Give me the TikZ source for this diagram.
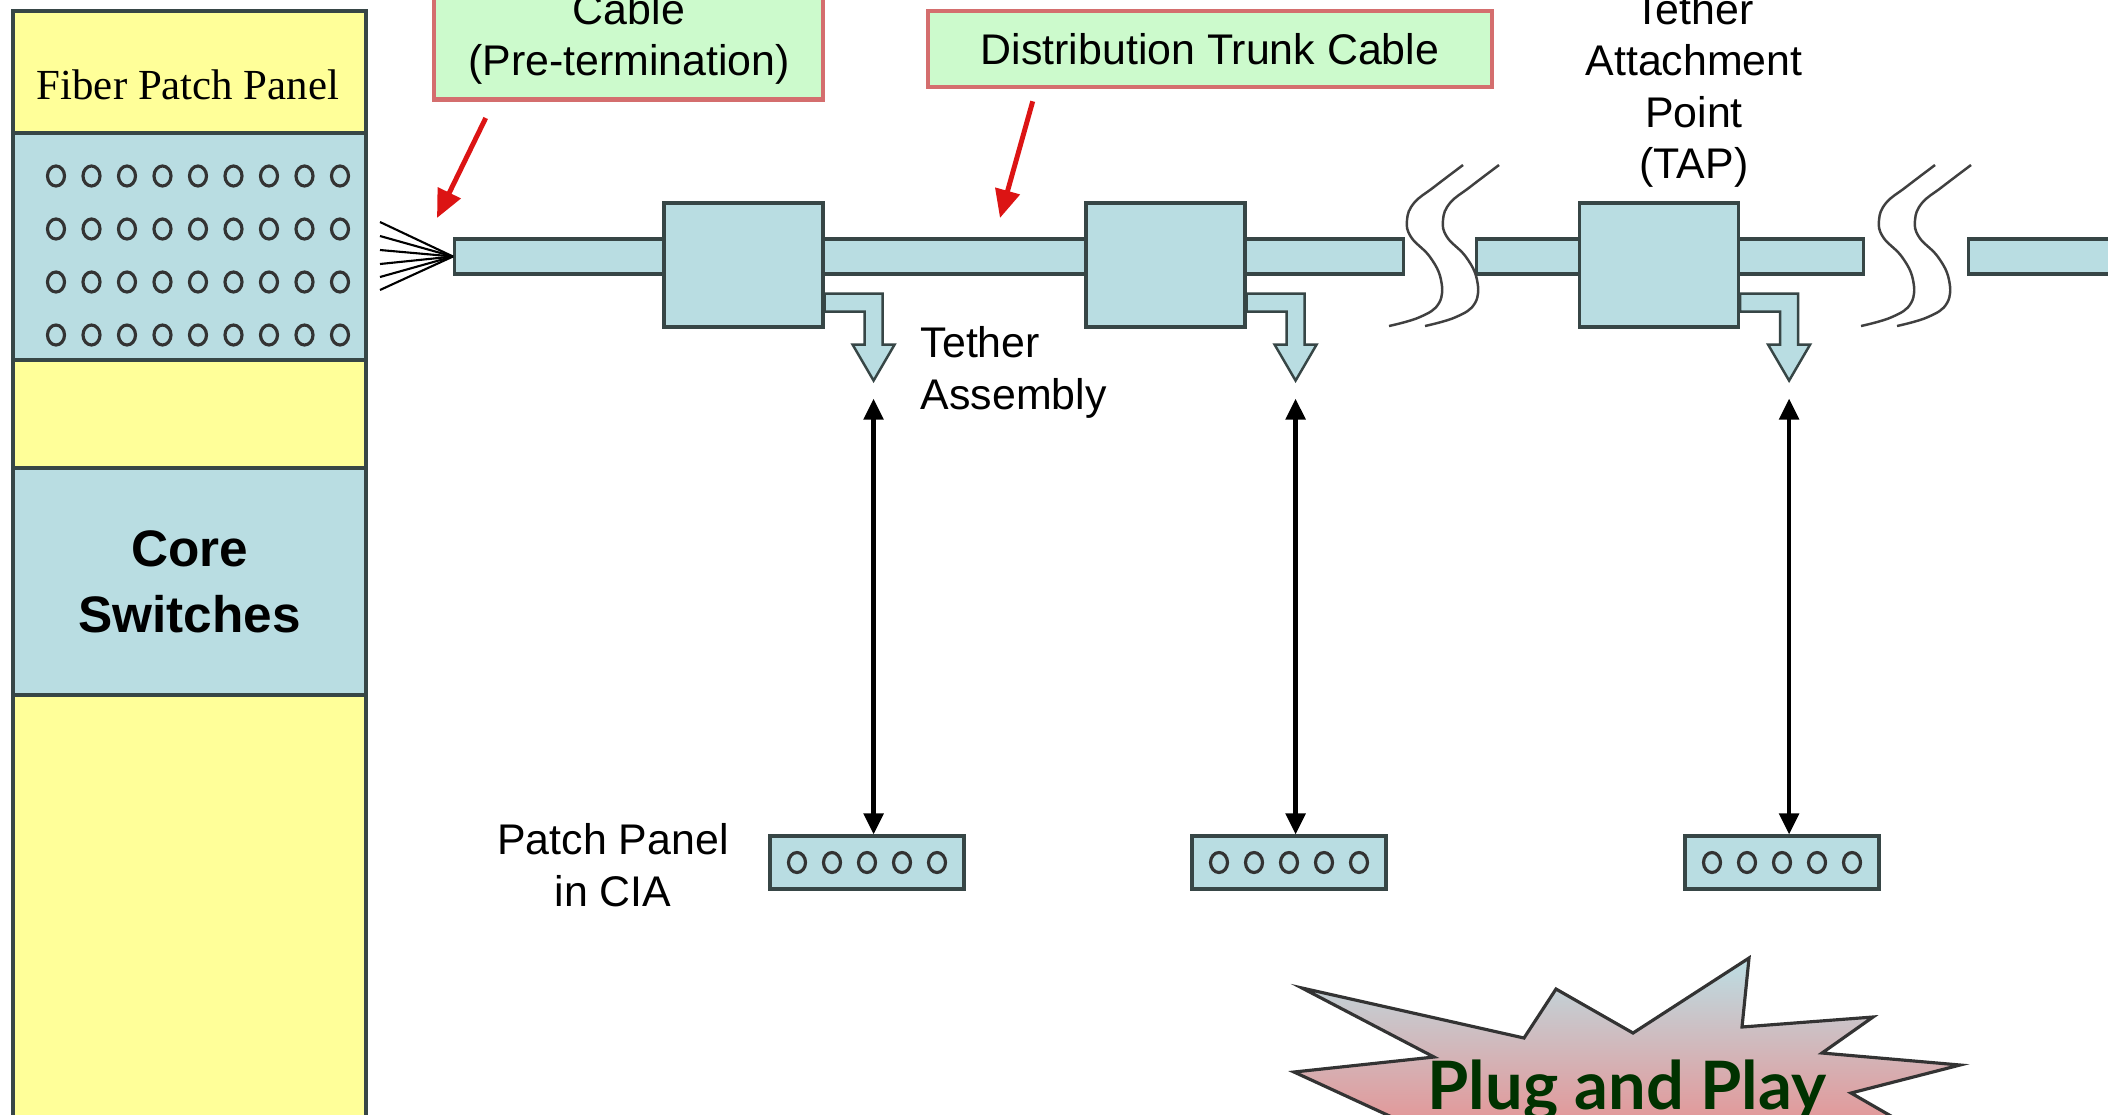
\documentclass[tikz,border=0pt]{standalone}
\usepackage{fontspec}
\setmainfont{Liberation Sans}
\newfontfamily\panelfont{Liberation Serif}
\newfontfamily\plugfont{Lato}
\usetikzlibrary{arrows.meta,calc,positioning}
\definecolor{tapblue}{RGB}{185,221,226}
\definecolor{rackyellow}{RGB}{255,255,153}
\definecolor{edgegray}{RGB}{55,70,70}
\definecolor{notegreen}{RGB}{204,250,204}
\definecolor{noteedge}{RGB}{212,110,110}
\definecolor{callred}{RGB}{220,20,20}
\definecolor{plugtext}{RGB}{0,50,0}
\definecolor{burstblue}{RGB}{188,222,228}
\definecolor{burstpink}{RGB}{236,135,135}

\begin{document}
\begin{tikzpicture}[
    lbl/.style={font=\fontsize{12.2}{14.6}\selectfont, align=center, inner sep=0pt},
    rackpart/.style={draw=edgegray, fill=tapblue, line width=0.9pt, minimum width=3.53cm, minimum height=2.27cm, inner sep=0pt, align=center},
    tapbox/.style={draw=edgegray, fill=tapblue, line width=0.9pt, minimum width=1.59cm, minimum height=1.24cm, inner sep=0pt},
    cable/.style={draw=edgegray, fill=tapblue, line width=0.9pt, minimum height=0.35cm, inner sep=0pt, anchor=west},
    ciapanel/.style={draw=edgegray, fill=tapblue, line width=0.9pt, minimum width=1.94cm, minimum height=0.53cm, inner sep=0pt},
    note/.style={draw=noteedge, fill=notegreen, line width=1.3pt, inner sep=0pt},
    port/.style={draw=black!80, line width=0.9pt},
    tether/.style={draw=edgegray, fill=tapblue, line width=0.7pt},
    link/.style={{Triangle[length=6pt,width=5.5pt]}-{Triangle[length=6pt,width=5.5pt]}, line width=1.3pt},
    callout/.style={-{Triangle[length=8pt,width=7pt]}, draw=callred, line width=1.4pt},
    brk/.style={draw=black!75, line width=0.7pt}
]
\useasboundingbox (0,0) rectangle (21.08,-11.14);
\clip (0,0) rectangle (21.08,-11.14);
\fill[white] (0,0) rectangle (21.08,-11.14);

% rack column
\fill[rackyellow] (0.13,-0.11) rectangle (3.66,-11.6);
\node[rackpart] (fpp) at (1.895,-2.465) {};
\node[rackpart, font=\fontsize{14.6}{18.8}\selectfont\bfseries] (core) at (1.895,-5.815) {Core\\Switches};
\draw[draw=edgegray, line width=0.9pt] (0.13,-11.6) |- (3.66,-0.11) -- (3.66,-11.6);
\node[font=\panelfont\fontsize{12.2}{14}\selectfont] (fpplabel) at (1.88,-0.85) {Fiber Patch Panel};
\foreach \c in {0,...,8}{
  \foreach \r in {0,...,3}{
    \draw[port] (0.56+0.355*\c,-1.76-0.53*\r) ellipse (0.085 and 0.10);
  }
}

% trunk cable
\node[cable, minimum width=9.49cm] (trunkA) at (4.53,-2.565) {};
\node[cable, minimum width=3.87cm] (trunkB) at (14.75,-2.565) {};
\node[cable, minimum width=1.60cm] (trunkC) at (19.67,-2.565) {};
\coordinate (fanend) at (trunkA.west);
\foreach \y in {2.22,2.36,2.50,2.64,2.77,2.90}
  \draw[line width=0.6pt] (3.80,-\y) -- (fanend);

\foreach \bx in {13.89,14.25,18.61,18.97}
  \draw[brk, shift={(\bx,-3.26)}] plot[smooth, tension=0.7] coordinates {(0,0) (0.31,0.09) (0.50,0.23) (0.52,0.46) (0.41,0.69) (0.22,0.89) (0.18,1.06) (0.25,1.23) (0.45,1.39) (0.74,1.61)};

% TAPs, tethers and CIA panels
\node[tapbox] (tap1) at (7.435,-2.65) {};
\node[tapbox] (tap2) at (11.655,-2.65) {};
\node[tapbox] (tap3) at (16.59,-2.65) {};
\node[ciapanel] (pp1) at (8.67,-8.625) {};
\node[ciapanel] (pp2) at (12.89,-8.625) {};
\node[ciapanel] (pp3) at (17.82,-8.625) {};
\foreach \i in {1,2,3}{
  \draw[tether] ([yshift=0.35cm]tap\i.south east) -- ++(0.58,0) -- ++(0,-0.51) -- ++(0.12,0)
    -- ++(-0.21,-0.36) coordinate (tip\i) -- ++(-0.21,0.36) -- ++(0.12,0) -- ++(0,0.33) -- ++(-0.40,0) -- cycle;
  \draw[link] ([yshift=-0.18cm]tip\i) -- (tip\i |- pp\i.north);
  \foreach \k in {-2,...,2}
    \draw[port] ($(pp\i)+(0.35*\k,0)$) ellipse (0.085 and 0.10);
}

% notes
\node[note, minimum width=3.89cm, minimum height=2.2cm, anchor=south] (precable) at (6.285,-1.02) {};
\node[lbl] (precabletxt) at (6.29,-0.39) {Cable\\(Pre-termination)};
\node[note, lbl, minimum width=5.64cm, minimum height=0.76cm] (trunknote) at (12.10,-0.49) {Distribution Trunk Cable};
\coordinate (fantip) at (4.37,-2.18);
\coordinate (trunkspot) at (10.00,-2.18);
\draw[callout] ([shift={(0.54,-0.16)}]precable.south west) -- (fantip);
\draw[callout] ([shift={(1.07,-0.12)}]trunknote.south west) -- (trunkspot);

\node[lbl, align=left, anchor=west] (tetherlbl) at (9.20,-3.725) {Tether\\Assembly};
\node[lbl] (cialbl) at (6.13,-8.65) {Patch Panel\\in CIA};
\node[lbl] (taplbl) at (16.94,-0.905) {Tether\\Attachment\\Point\\(TAP)};

% plug and play burst
\shade[top color=burstblue, bottom color=burstpink, draw=black!80, line width=0.9pt]
  (12.94,-10.72) -- (14.34,-10.57) -- (13.02,-9.88) -- (15.24,-10.38) -- (15.56,-9.89) -- (16.33,-10.33)
  -- (17.49,-9.58) -- (17.42,-10.27) -- (18.73,-10.17) -- (18.22,-10.53) -- (19.60,-10.65) -- (18.51,-10.93)
  -- (19.50,-11.50) -- (18.00,-11.60) -- (16.00,-11.60) -- (14.20,-11.30) -- cycle;
\node[font=\plugfont\bfseries\fontsize{19}{22}\selectfont, text=plugtext, anchor=base] (plug) at (16.27,-11.09) {Plug and Play};
\end{tikzpicture}
\end{document}
